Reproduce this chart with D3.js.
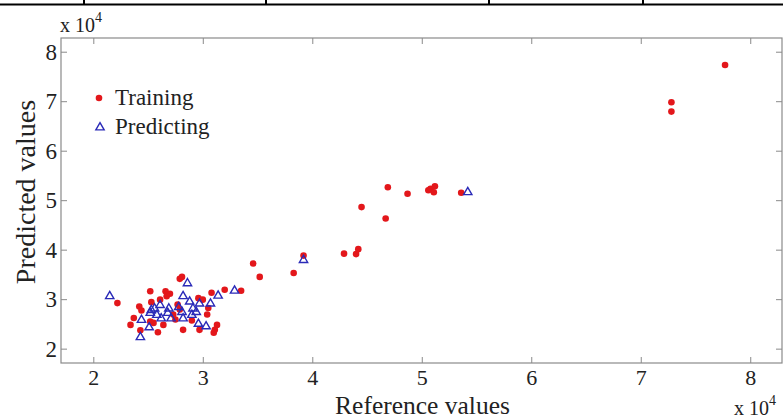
<!DOCTYPE html>
<html lang="en">
<head>
  <meta charset="utf-8">
  <title>Predicted vs reference</title>
  <script src="https://cdn.jsdelivr.net/npm/d3@7"></script>
  <style>
  body { margin: 0; background: #fff; }
  svg { font-family: "Liberation Serif", serif; }
  </style>
</head>
<body>
  <script>
  // values in units of 10^4
  var trainRef = [2.22, 2.79, 2.81, 2.52, 2.66, 2.70, 2.67, 2.53, 2.61, 2.42, 2.44, 2.37, 2.34, 2.43, 2.52,
    2.55, 2.59, 2.64, 2.73, 2.75, 2.77, 2.82, 2.90, 2.96, 3.00, 3.08, 3.20, 3.05, 3.04, 2.97, 3.13, 3.11,
    3.10, 2.79, 3.35, 3.46, 3.52, 3.83, 3.92, 4.29, 4.40, 4.42, 4.45, 4.67, 4.69, 4.87, 5.06, 5.08, 5.12,
    5.11, 5.36, 7.28, 7.28, 7.77];
  var trainPred = [2.92, 3.41, 3.45, 3.16, 3.16, 3.11, 3.06, 2.94, 2.99, 2.85, 2.77, 2.62, 2.48, 2.37, 2.55,
    2.52, 2.33, 2.48, 2.69, 2.59, 2.89, 2.38, 2.57, 3.02, 2.99, 3.13, 3.19, 2.82, 2.69, 2.38, 2.48, 2.38,
    2.32, 2.79, 3.17, 3.72, 3.45, 3.53, 3.88, 3.92, 3.91, 4.01, 4.86, 4.63, 5.26, 5.13, 5.20, 5.23, 5.28,
    5.16, 5.15, 6.98, 6.79, 7.73];
  var predRef = [2.15, 2.86, 2.82, 3.14, 3.29, 2.44, 2.51, 2.43, 2.53, 2.56, 2.61, 2.69, 2.78, 2.58, 2.62,
    2.68, 2.81, 2.88, 2.91, 2.90, 2.94, 2.97, 3.07, 2.96, 3.03, 2.82, 2.71, 2.52, 3.92, 5.42];
  var predPred = [3.07, 3.33, 3.07, 3.08, 3.18, 2.59, 2.44, 2.24, 2.79, 2.82, 2.89, 2.82, 2.85, 2.69, 2.62,
    2.73, 2.75, 2.96, 2.82, 2.69, 2.75, 2.92, 2.92, 2.51, 2.46, 2.62, 2.62, 2.73, 3.80, 5.17];
  var xTicks = [2, 3, 4, 5, 6, 7, 8];
  var yTicks = [2, 3, 4, 5, 6, 7, 8];
  var seriesNames = ["Training", "Predicting"];

  var width = 783, height = 419;
  var plotL = 61, plotR = 782, plotT = 38, plotB = 363;

  var svg = d3.select("body").append("svg")
    .attr("width", width)
    .attr("height", height);

  // strip of table border at the very top
  var topBorder = [84, 266, 489, 643];
  svg.append("line")
    .attr("x1", 0).attr("x2", width)
    .attr("y1", 4.5).attr("y2", 4.5)
    .attr("stroke", "#000").attr("stroke-width", 2);
  svg.selectAll(".tb").data(topBorder).enter().append("line")
    .attr("x1", function(d) { return d; }).attr("x2", function(d) { return d; })
    .attr("y1", 0).attr("y2", 5)
    .attr("stroke", "#000").attr("stroke-width", 2);

  var x = d3.scaleLinear().domain([1.705, 8.29]).range([plotL, plotR]);
  var y = d3.scaleLinear().domain([1.71, 8.277]).range([plotB, plotT]);

  svg.append("rect")
    .attr("x", plotL).attr("y", plotT)
    .attr("width", plotR - plotL).attr("height", plotB - plotT)
    .attr("fill", "none").attr("stroke", "#8a8a8a").attr("stroke-width", 1.2);

  function styleAxis(g, size) {
    g.select(".domain").remove();
    g.selectAll(".tick line").attr("stroke", "#8a8a8a").attr("stroke-width", 1);
    g.selectAll(".tick text").attr("fill", "#222").attr("font-size", size)
      .attr("font-family", "Liberation Serif, serif");
  }

  svg.append("g").attr("transform", "translate(0," + plotB + ")")
    .call(d3.axisBottom(x).tickValues(xTicks).tickSize(-6).tickPadding(6).tickFormat(d3.format("d")))
    .call(styleAxis, "22px");
  svg.append("g").attr("transform", "translate(0," + plotT + ")")
    .call(d3.axisTop(x).tickValues(xTicks).tickSize(-6).tickFormat(""))
    .call(styleAxis, "22px");
  svg.append("g").attr("transform", "translate(" + plotL + ",0)")
    .call(d3.axisLeft(y).tickValues(yTicks).tickSize(-6).tickPadding(4).tickFormat(d3.format("d")))
    .call(styleAxis, "23px");
  svg.append("g").attr("transform", "translate(" + plotR + ",0)")
    .call(d3.axisRight(y).tickValues(yTicks).tickSize(-6).tickFormat(""))
    .call(styleAxis, "23px");

  var red = "#e3171b", blue = "#2a2ab8";
  var tri = d3.symbol().type(d3.symbolTriangle).size(30);

  svg.selectAll(".train").data(trainRef).enter().append("circle")
    .attr("cx", function(d) { return x(d); })
    .attr("cy", function(d, i) { return y(trainPred[i]); })
    .attr("r", 3.3)
    .attr("fill", red);

  svg.selectAll(".pred").data(predRef).enter().append("path")
    .attr("d", tri)
    .attr("transform", function(d, i) { return "translate(" + x(d) + "," + (y(predPred[i]) + 0.5) + ")"; })
    .attr("fill", "none")
    .attr("stroke", blue)
    .attr("stroke-width", 1.4);

  // legend
  svg.append("circle").attr("cx", 99).attr("cy", 98).attr("r", 3.3).attr("fill", red);
  svg.append("path").attr("d", tri).attr("transform", "translate(100,127.5)")
    .attr("fill", "none").attr("stroke", blue).attr("stroke-width", 1.4);
  svg.selectAll(".leg").data(seriesNames).enter().append("text")
    .attr("x", 115)
    .attr("y", function(d, i) { return 105 + i * 29; })
    .attr("font-size", "23px").attr("fill", "#222")
    .text(function(d) { return d; });

  // axis titles
  svg.append("text")
    .attr("x", (plotL + plotR) / 2 + 1).attr("y", 413.5)
    .attr("text-anchor", "middle").attr("font-size", "25.5px").attr("fill", "#222")
    .text("Reference values");
  svg.append("text")
    .attr("transform", "translate(35,192) rotate(-90)")
    .attr("text-anchor", "middle").attr("font-size", "28px").attr("fill", "#222")
    .text("Predicted values");

  // exponent labels
  function exponent(px, py) {
    var t = svg.append("text").attr("x", px).attr("y", py)
      .attr("font-size", "20px").attr("fill", "#222");
    t.append("tspan").text("x 10");
    t.append("tspan").attr("dy", -10).attr("font-size", "14px").text("4");
  }
  exponent(60, 32);
  exponent(734, 415);
  </script>
</body>
</html>
